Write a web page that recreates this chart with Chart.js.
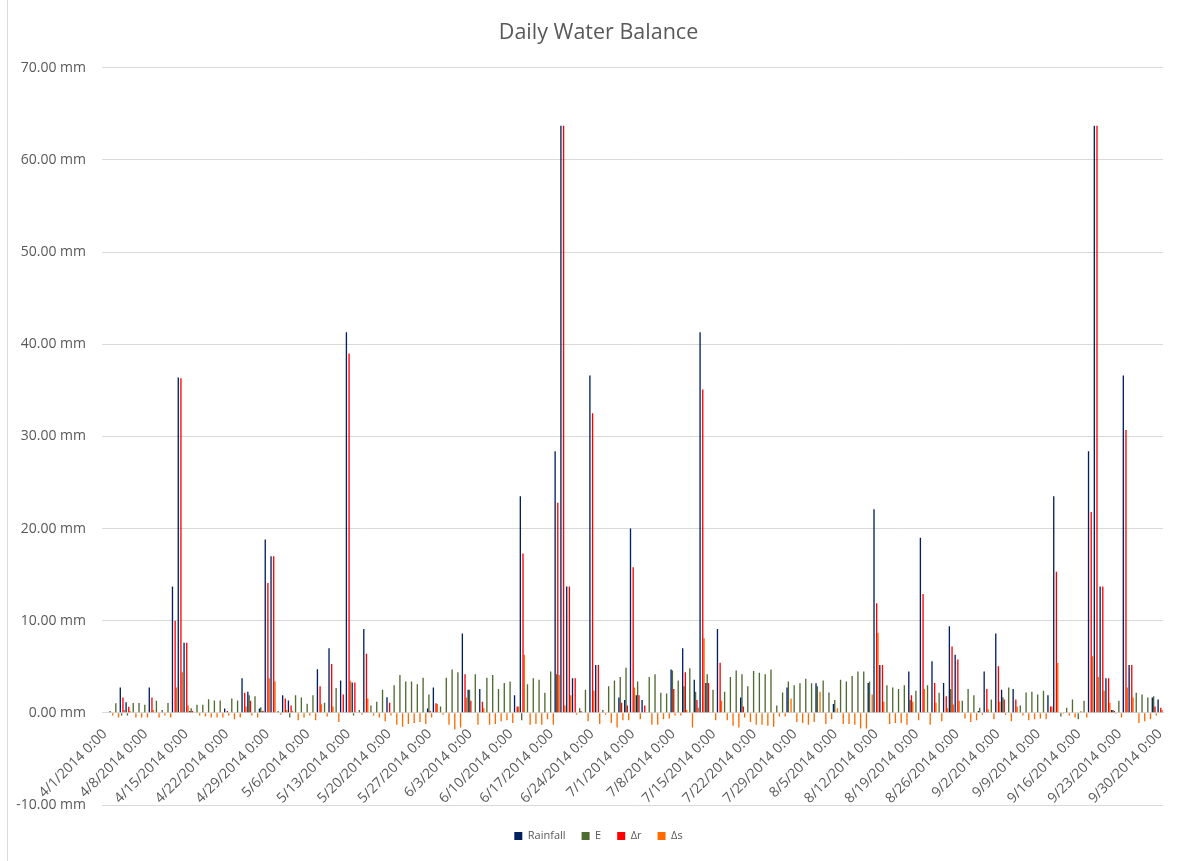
<!DOCTYPE html>
<html>
<head>
<meta charset="utf-8">
<title>Daily Water Balance</title>
<script src="https://cdn.jsdelivr.net/npm/chart.js@4.4.1/dist/chart.umd.min.js"></script>
<style>
  html, body { margin: 0; padding: 0; background: #ffffff; }
  #wrap { position: relative; width: 1189px; height: 861px; }
  #wrap::before { content: ''; position: absolute; left: 7px; top: 0; bottom: 0; border-left: 1px solid #d9d9d9; }
  canvas { display: block; }
</style>
</head>
<body>
<div id="wrap"><canvas id="c" width="1189" height="861"></canvas></div>
<script>
// Daily series, 1 April 2014 to 30 September 2014 (183 days), in mm
const rainfall = [
  0, 0, 0, 2.75, 1.16, 0, 0, 0, 2.75, 0,
  0, 0, 13.7, 36.4, 7.6, 0.2, 0, 0, 0, 0,
  0, 0.47, 0, 0, 3.76, 2.28, 0, 0.47, 18.8, 17.0,
  0, 1.9, 1.33, 0, 0, 0, 0, 4.74, 0, 7.0,
  0, 3.5, 41.3, 3.3, 0, 9.1, 0, 0, 0, 1.7,
  0, 0, 0, 0, 0, 0, 0.47, 2.75, 0, 0,
  0, 0, 8.6, 2.5, 0, 2.6, 0, 0, 0, 0,
  0, 1.9, 23.5, 0, 0, 0, 0, 0, 28.4, 63.7,
  13.7, 3.76, 0, 0, 36.6, 5.2, 0, 0, 0, 1.66,
  1.4, 20.0, 1.9, 1.4, 0, 0, 0, 0, 4.7, 0,
  7.0, 0, 3.6, 41.3, 3.25, 0, 9.1, 0, 0, 0,
  1.66, 0, 0, 0, 0, 0, 0, 0, 2.75, 0,
  0, 0, 0, 3.2, 0, 0, 0.95, 0, 0, 0,
  0, 0, 3.25, 22.1, 5.2, 0, 0, 0, 0, 4.5,
  0, 19.0, 0, 5.6, 0, 3.25, 9.4, 6.3, 0, 0,
  0, 0.2, 4.5, 0, 8.6, 2.5, 0, 2.6, 0, 0,
  0, 0, 0, 1.9, 23.5, 0, 0, 0, 0, 0,
  28.4, 63.7, 13.7, 3.76, 0.3, 0, 36.6, 5.2, 0, 0,
  0, 1.66, 1.45
];

const evap = [
  0, 0.2, 1.05, -0.3, -0.3, 1.07, 1.07, 0.87, 0, 1.3,
  0.3, 1.07, 0, 0, 0, 0.5, 0.87, 0.87, 1.47, 1.33,
  1.33, 0, 1.56, 1.33, 0, 1.9, 1.8, 0.6, 0, 0,
  0.2, 0, -0.5, 1.9, 1.67, 1.0, 1.9, 0, 1.1, 0,
  2.7, 0, 0, -0.3, 0.3, 0, 0.8, 1.2, 2.5, 0,
  3.0, 4.1, 3.4, 3.4, 3.1, 3.8, 2.0, 0, 0.7, 3.8,
  4.7, 4.4, 0, 2.5, 4.2, 0, 3.8, 4.1, 2.6, 3.25,
  3.4, 0, -0.8, 3.1, 3.76, 3.6, 2.17, 4.5, 4.2, 0,
  0, 0, 0.5, 2.5, 0, 0, 0.3, 2.9, 3.5, 3.9,
  4.9, 0, 3.4, 0, 3.9, 4.2, 2.17, 2.1, 4.6, 3.5,
  2.9, 4.85, 2.3, 0, 4.2, 2.5, 0, 2.3, 3.9, 4.6,
  4.2, 2.9, 4.55, 4.35, 4.2, 4.7, 0.8, 2.2, 3.4, 3.0,
  3.2, 3.7, 3.2, 2.9, 3.5, 2.2, 1.4, 3.6, 3.4, 4.0,
  4.5, 4.5, 3.4, 0, 0, 3.0, 2.75, 2.6, 3.0, 1.4,
  2.4, 0, 3.0, 0, 2.17, 0, 2.6, 0, 1.3, 2.6,
  1.9, 0.55, 0, 1.45, 0, 1.7, 2.75, 0, 0.8, 2.2,
  2.3, 2.0, 2.4, 0, 0, -0.4, 0.55, 1.45, -0.7, 1.3,
  0, 0, 0, 0, 0.3, 1.3, 0, 0, 2.17, 2.0,
  1.66, 1.8, 0
];

const deltaR = [
  0, 0, 0, 1.66, 0.65, 0, 0, 0, 1.66, 0,
  0, 0, 10.0, 36.3, 7.6, 0.2, 0, 0, 0, 0,
  0, 0.2, 0, 0, 2.17, 1.3, 0, 0.2, 14.1, 17.0,
  0, 1.55, 0.8, 0, 0, 0, 0, 2.9, 0, 5.3,
  0, 2.0, 39.0, 3.3, 0, 6.4, 0, 0, 0, 1.1,
  0, 0, 0, 0, 0, 0, 0.2, 1.05, 0, 0,
  0, 0, 4.2, 1.3, 0, 1.2, 0, 0, 0, 0,
  0, 0.7, 17.3, 0, 0, 0, 0, 0, 22.8, 63.7,
  13.7, 3.76, 0.2, 0, 32.5, 5.2, 0, 0, 0, 1.1,
  0.8, 15.8, 1.9, 0.8, 0, 0, 0, 0, 2.6, 0,
  4.4, 0, 1.4, 35.1, 3.25, 0, 5.45, 0, 0, 0,
  0.7, 0, 0, 0, 0, 0, 0, 0, 0, 0,
  0, 0, 0, 0, 0, 0, 0, 0, 0, 0,
  0, 0, 0, 11.9, 5.2, 0, 0, 0, 0, 1.9,
  0, 12.9, 0, 3.25, 0, 1.8, 7.2, 5.8, 0, 0,
  0, 0, 2.6, 0, 5.06, 1.45, 0, 1.45, 0, 0,
  0, 0, 0, 0.7, 15.3, 0, 0, 0, 0, 0,
  21.8, 63.7, 13.7, 3.76, 0.2, 0, 30.7, 5.2, 0, 0,
  0, 0.7, 0.55
];

const deltaS = [
  0, -0.3, -0.5, 0.3, 0.2, -0.5, -0.5, -0.5, 0.3, -0.5,
  -0.3, -0.5, 2.75, 4.4, 0.8, 0, -0.3, -0.4, -0.5, -0.5,
  -0.5, -0.3, -0.7, -0.5, 0.7, -0.3, -0.5, 0.2, 3.76, 3.4,
  -0.2, 0.3, 0.2, -0.8, -0.5, -0.3, -0.8, 0.94, -0.4, 0.7,
  -1.0, 0, 3.47, 0, -0.2, 1.55, -0.3, -0.5, -0.9, -0.3,
  -1.3, -1.5, -1.2, -1.1, -1.0, -1.2, -0.5, 0.95, -0.2, -1.3,
  -1.8, -1.6, 1.66, 0, -1.3, 0.5, -1.3, -1.2, -0.9, -0.8,
  -1.1, 0.7, 6.3, -1.3, -1.2, -1.3, -0.7, -1.3, 4.1, 0.8,
  1.9, -0.2, 0, -0.9, 2.4, -1.2, -0.2, -1.1, -1.6, -0.8,
  -0.8, 2.75, -0.7, 0, -1.3, -1.3, -0.7, -0.6, -0.3, -0.3,
  0.3, -1.6, 0.55, 8.1, 0, -0.8, 1.3, -0.8, -1.4, -1.6,
  -0.5, -1.0, -1.3, -1.3, -1.4, -1.5, -0.4, -0.4, 1.55, -1.0,
  -1.1, -1.3, -1.0, 2.3, -1.2, -0.7, 0.5, -1.2, -1.2, -1.3,
  -1.7, -1.7, 2.0, 8.7, 1.2, -1.2, -1.1, -1.1, -1.3, 1.2,
  -0.8, 2.6, -1.3, 1.1, -0.9, 0.5, 0.9, 1.3, -0.6, -1.0,
  -0.8, -0.2, 0.4, -0.7, 1.2, -0.2, -0.9, 0.7, -0.3, -0.8,
  -0.7, -0.6, -0.7, 0.7, 5.4, -0.1, -0.3, -0.5, 0.2, -0.5,
  6.15, 3.9, 2.4, 1.1, -0.1, -0.5, 2.75, 1.66, -1.1, -0.9,
  -0.7, -0.3, 0.3
];

// Category labels: one per day, written the way the spreadsheet exports them
const dates = [];
for (let i = 0; i < rainfall.length; i++) {
  const d = new Date(2014, 3, 1 + i);
  dates.push((d.getMonth() + 1) + '/' + d.getDate() + '/' + d.getFullYear() + ' 0:00');
}
const tickStep = 7;          // one axis label per week
const yTicks = { min: -10, max: 70, step: 10 };

const seriesNames = ['Rainfall', 'E', '\u0394r', '\u0394s'];
const seriesColors = ['#002060', '#4E6B30', '#FF0000', '#FF6A00'];
const seriesData = [rainfall, evap, deltaR, deltaS];

// Centres the title and legend on the whole chart frame rather than on the
// padded layout region, and drops the legend row a little below the axis labels.
const boxShift = {
  id: 'boxShift',
  afterLayout(chart, args, opts) {
    [chart.titleBlock, chart.legend].forEach((b) => {
      if (b) { b.left += opts.dx; b.right += opts.dx; }
    });
    if (chart.legend) {
      chart.legend.top += opts.legendDy;
      chart.legend.bottom += opts.legendDy;
    }
  }
};

Chart.defaults.font.family = "'Open Sans', 'DejaVu Sans', sans-serif";
Chart.defaults.color = '#595959';

new Chart(document.getElementById('c'), {
  type: 'bar',
  data: {
    labels: dates,
    datasets: seriesNames.map((name, i) => ({
      label: name,
      data: seriesData[i],
      backgroundColor: seriesColors[i],
      borderWidth: 0
    }))
  },
  plugins: [boxShift],
  options: {
    responsive: false,
    animation: false,
    devicePixelRatio: 1,
    datasets: { bar: { categoryPercentage: 0.92, barPercentage: 1.0 } },
    layout: { padding: { left: 8, right: 26, top: 0, bottom: 19 } },
    plugins: {
      boxShift: { dx: 13, legendDy: 9.5 },
      title: {
        display: true,
        text: 'Daily Water Balance',
        color: '#595959',
        font: { size: 21.5, weight: 'normal' },
        padding: { top: 20, bottom: 22 }
      },
      legend: {
        position: 'bottom',
        labels: { boxWidth: 8, boxHeight: 8, padding: 16, font: { size: 11 }, color: '#595959' }
      },
      tooltip: { enabled: false }
    },
    scales: {
      x: {
        position: { y: 0 },
        grid: { display: false, drawTicks: false },
        border: { display: true, color: '#d9d9d9' },
        ticks: {
          autoSkip: false,
          maxRotation: 45,
          minRotation: 45,
          padding: 13,
          font: { size: 14 },
          callback: function (value, index) {
            return index % tickStep === 0 ? this.getLabelForValue(value) : '';
          }
        }
      },
      y: {
        min: yTicks.min,
        max: yTicks.max,
        grid: { color: '#d9d9d9', drawTicks: false },
        border: { display: false },
        ticks: {
          stepSize: yTicks.step,
          padding: 16,
          font: { size: 14 },
          callback: (v) => v.toFixed(2) + ' mm'
        },
        afterFit: (scale) => { scale.width = 94; }
      }
    }
  }
});
</script>
</body>
</html>
